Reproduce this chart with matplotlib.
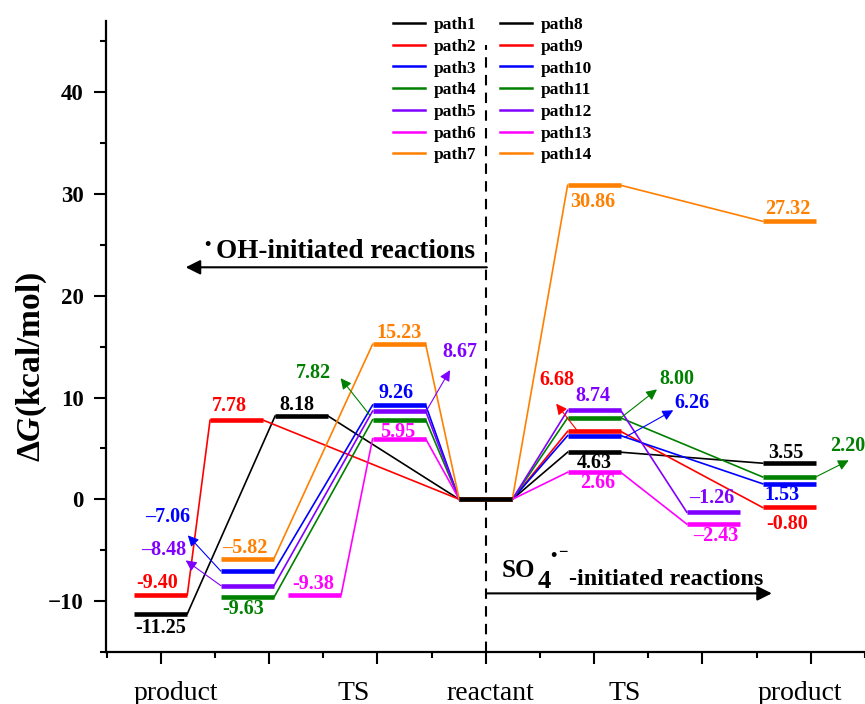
import matplotlib.pyplot as plt
from matplotlib.lines import Line2D

plt.rcParams['font.family'] = ['Liberation Serif', 'DejaVu Serif']
plt.rcParams['mathtext.fontset'] = 'custom'
plt.rcParams['mathtext.rm'] = 'Liberation Serif:bold'
plt.rcParams['mathtext.it'] = 'Liberation Serif:italic:bold'
plt.rcParams['mathtext.bf'] = 'Liberation Serif:bold'

# free energies (kcal/mol)
oh_paths = ['path1', 'path2', 'path3', 'path4', 'path5', 'path6', 'path7']
so4_paths = ['path8', 'path9', 'path10', 'path11', 'path12', 'path13', 'path14']
oh_ts = [8.18, 7.78, 9.26, 7.82, 8.67, 5.95, 15.23]
oh_product = [-11.25, -9.40, -7.06, -9.63, -8.48, -9.38, -5.82]
so4_ts = [4.63, 6.68, 6.26, 8.00, 8.74, 2.66, 30.86]
so4_product = [3.55, -0.80, 1.53, 2.20, -1.26, -2.43, 27.32]
reactant = 0.0
stage_labels = ['product', 'TS', 'reactant', 'TS', 'product']

colors = ['#000000', '#FF0000', '#0000FF', '#008000', '#8000FF', '#FF00FF', '#FF8000']

# horizontal placement of the levels
oh_ts_x = [2.3, 1.7, 3.2, 3.2, 3.2, 3.2, 3.2]
oh_prod_x = [1.0, 1.0, 1.8, 1.8, 1.8, 2.42, 1.8]
so4_ts_x = [5.0] * 7
so4_prod_x = [6.8, 6.8, 6.8, 6.8, 6.1, 6.1, 6.8]
react_x = 4.0
stage_x = [1.14, 2.78, 4.04, 5.28, 6.9]
hw = 0.245

fig = plt.figure(figsize=(8.65, 7.04), dpi=100)
ax = fig.add_axes([105.5 / 865, 52 / 704, 759.5 / 865, 631 / 704])


def draw_path(xs, ys, c):
    for i in range(len(xs) - 1):
        ax.plot([xs[i] + hw, xs[i + 1] - hw], [ys[i], ys[i + 1]], color=c, lw=1.2, zorder=2)
    for x, y in zip(xs, ys):
        ax.plot([x - hw, x + hw], [y, y], color=c, lw=3.3, solid_capstyle='butt', zorder=3)


for i in range(7):
    draw_path([oh_prod_x[i], oh_ts_x[i], react_x], [oh_product[i], oh_ts[i], reactant], colors[i])
for i in range(7):
    draw_path([react_x, so4_ts_x[i], so4_prod_x[i]], [reactant, so4_ts[i], so4_product[i]], colors[i])
ax.plot([react_x - hw, react_x + hw], [reactant, reactant], color='black', lw=3.3,
        solid_capstyle='butt', zorder=4)


# value labels
def lab(v, x, y, c, arrow=None, dash='-'):
    s = f'{abs(v):.2f}'
    if v < 0:
        s = dash + s
    ax.text(x, y, s, color=c, fontsize=14.5, fontweight='bold', ha='center', va='center', zorder=5)
    if arrow:
        ax.annotate('', xy=arrow[1], xytext=arrow[0],
                    arrowprops=dict(arrowstyle='-|>', color=c, lw=0.8, mutation_scale=16,
                                    shrinkA=0, shrinkB=0), zorder=5)


k, r, b, g, p, m, o = colors
lab(oh_product[0], 1.0, -12.6, k)
lab(oh_product[1], 0.97, -8.26, r)
lab(oh_ts[1], 1.63, 9.14, r)
lab(oh_ts[0], 2.26, 9.24, k)
lab(oh_product[2], 1.06, -1.77, b, arrow=((oh_prod_x[2] - hw, oh_product[2]), (1.25, -3.54)), dash='–')
lab(oh_product[4], 1.03, -5.0, p, arrow=((oh_prod_x[4] - hw, oh_product[4]), (1.23, -6.0)), dash='–')
lab(oh_product[6], 1.78, -4.8, o, dash='–')
lab(oh_product[3], 1.76, -10.8, g)
lab(oh_product[5], 2.41, -8.3, m)
lab(oh_ts[5], 3.19, 6.6, m)
lab(oh_ts[2], 3.17, 10.4, b)
lab(oh_ts[6], 3.2, 16.3, o)
lab(oh_ts[3], 2.41, 12.4, g, arrow=((2.93, 8.26), (2.66, 11.9)))
lab(oh_ts[4], 3.76, 14.45, p, arrow=((3.45, 8.67), (3.67, 12.7)))

lab(so4_ts[6], 4.99, 29.2, o)
lab(so4_product[6], 6.79, 28.5, o)
lab(so4_ts[1], 4.66, 11.7, r, arrow=((4.84, 6.8), (4.65, 9.4)))
lab(so4_ts[4], 4.99, 10.2, p)
lab(so4_ts[3], 5.76, 11.8, g, arrow=((5.245, 8.0), (5.58, 10.8)))
lab(so4_ts[2], 5.9, 9.5, b, arrow=((5.285, 6.1), (5.73, 8.75)))
lab(so4_ts[0], 5.0, 3.6, k)
lab(so4_ts[5], 5.03, 1.57, m)
lab(so4_product[4], 6.09, 0.1, p, dash='–')
lab(so4_product[5], 6.12, -3.6, m, dash='–')
lab(so4_product[0], 6.77, 4.6, k)
lab(so4_product[2], 6.73, 0.4, b)
lab(so4_product[1], 6.78, -2.4, r)
lab(so4_product[3], 7.34, 5.2, g, arrow=((so4_prod_x[3] + hw, so4_product[3]), (7.35, 3.83)))

# dividing line and direction arrows
ax.plot([react_x, react_x], [-15, 44.6], color='black', lw=1.5, ls=(0, (5, 3.5)), zorder=1)
ax.annotate('', xy=(1.23, 22.8), xytext=(4.01, 22.8),
            arrowprops=dict(arrowstyle='-|>', color='black', lw=1.5, mutation_scale=22,
                            shrinkA=0, shrinkB=0))
ax.text(1.43, 24.9, '•', fontsize=13, fontweight='bold', ha='center', va='center')
ax.text(3.903, 23.7, 'OH-initiated reactions', fontsize=19.5, fontweight='bold',
        ha='right', va='baseline')
ax.annotate('', xy=(6.64, -9.24), xytext=(4.01, -9.24),
            arrowprops=dict(arrowstyle='-|>', color='black', lw=1.5, mutation_scale=22,
                            shrinkA=0, shrinkB=0))
ax.text(4.15, -7.67, 'SO', fontsize=18, fontweight='bold', ha='left', va='baseline')
ax.text(4.475, -8.75, '4', fontsize=19, fontweight='bold', ha='left', va='baseline')
ax.text(4.62, -5.6, '•', fontsize=13, fontweight='bold', ha='center', va='center')
ax.text(4.71, -5.3, '−', fontsize=12, fontweight='bold', ha='center', va='center')
ax.text(4.77, -8.46, '-initiated reactions', fontsize=17.5, fontweight='bold',
        ha='left', va='baseline')

# stage labels under the axis
for x, s in zip(stage_x, stage_labels):
    ax.text(x, -19.67, s, fontsize=20, ha='center', va='baseline', clip_on=False)

# axes
ax.set_xlim(0.49, 7.5)
ax.set_ylim(-15, 47)
ax.spines['top'].set_visible(False)
ax.spines['right'].set_visible(False)
ax.spines['left'].set_linewidth(1.6)
ax.spines['bottom'].set_linewidth(1.6)
ax.set_xticks(range(1, 8))
ax.set_xticks([x + 0.5 for x in range(0, 8)], minor=True)
ax.set_xticklabels([])
ax.set_yticks(range(-10, 41, 10))
ax.set_yticks(range(-15, 46, 10), minor=True)
ax.tick_params(axis='both', which='major', direction='out', length=8.5, width=1.5)
ax.tick_params(axis='both', which='minor', direction='out', length=4.3, width=1.5)
ax.tick_params(axis='y', labelsize=16.5, pad=7)
for t in ax.get_yticklabels():
    t.set_fontweight('bold')
ax.text(-0.0968, 0.452, 'Δ$\\mathit{G}$(kcal/mol)', transform=ax.transAxes, rotation=90,
        ha='center', va='center', fontsize=24, fontweight='bold')

# legend
handles = [Line2D([], [], color=c, lw=1.8) for c in colors + colors]
leg = fig.legend(handles, oh_paths + so4_paths, ncol=2, loc='upper left',
                 bbox_to_anchor=(393 / 865, 1 - 17 / 704), frameon=False, borderpad=0,
                 borderaxespad=0, handlelength=1.84, handletextpad=0.52, columnspacing=1.33,
                 labelspacing=0.32,
                 prop={'family': 'Liberation Serif', 'weight': 'bold', 'size': 12.5})

fig.savefig('out.png', dpi=100)
